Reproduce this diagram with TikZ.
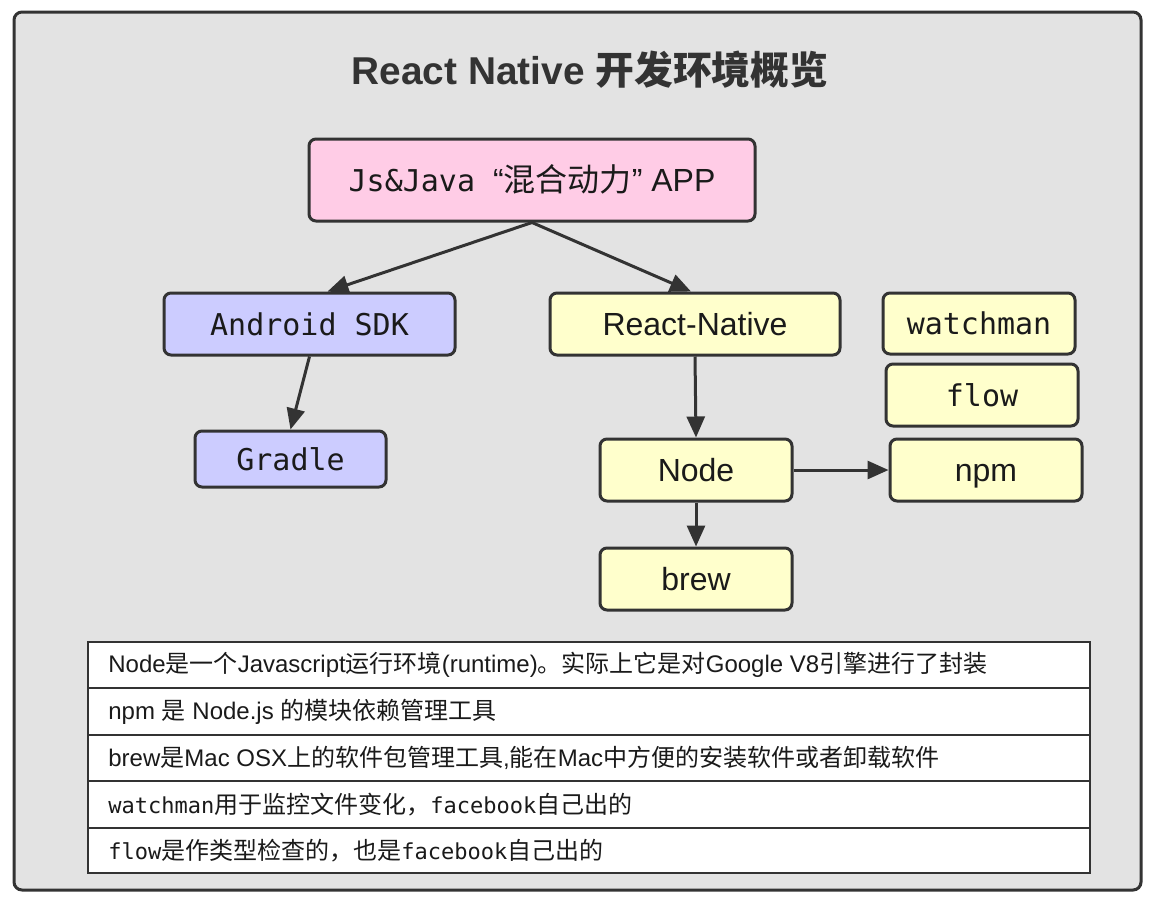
\documentclass[tikz,border=0pt]{standalone}
\usepackage{fontspec}
\setmainfont{Liberation Sans}
\setmonofont{DejaVu Sans Mono}
\newfontfamily\cjk{Noto Sans CJK SC}
\newcommand\zh[1]{{\cjk #1}}
\usetikzlibrary{arrows.meta}
\definecolor{framebg}{HTML}{E3E3E3}
\definecolor{edge}{HTML}{333333}
\definecolor{pinkfill}{HTML}{FFCCE6}
\definecolor{lavfill}{HTML}{CCCCFF}
\definecolor{yelfill}{HTML}{FFFFCC}
\definecolor{txt}{HTML}{1A1A1A}
\tikzset{
  box/.style={draw=edge, line width=1.5pt, rounded corners=3.5pt, inner sep=0pt, text=txt},
  pinkbox/.style={box, fill=pinkfill},
  lavbox/.style={box, fill=lavfill},
  yelbox/.style={box, fill=yelfill},
  sztxt/.style={font=\fontsize{16}{18}\selectfont, text height=11.5pt, text depth=0pt},
  monotxt/.style={font=\ttfamily\fontsize{15}{18}\selectfont, text height=11pt, text depth=0pt},
  conn/.style={draw=edge, line width=1.5pt, -{Triangle[length=10.5pt,width=9pt]}},
  row/.style={draw=edge, line width=1.2pt, fill=white},
  rowtxt/.style={anchor=west, inner sep=0pt, text=txt, font=\fontsize{12}{14}\selectfont},
}
\begin{document}
\begin{tikzpicture}[x=0.5pt,y=-0.5pt]
\useasboundingbox (0,0) rectangle (1154,900);
\fill[white] (0,0) rectangle (1154,900);
\draw[draw=edge, fill=framebg, line width=1.5pt, rounded corners=4pt] (14,12) rectangle (1141,890);

\node[text=edge, font=\bfseries\fontsize{19.4}{22}\selectfont] (title) at (590,70) {React Native \zh{开发环境概览}};

\node[pinkbox, minimum width=223pt, minimum height=41pt, sztxt] (app) at (532,180)
  {{\ttfamily\fontsize{15}{18}\selectfont Js\&Java }“\zh{混合动力}” APP};
\node[lavbox, minimum width=145.5pt, minimum height=31pt, monotxt] (asdk) at (309.5,324) {Android SDK};
\node[lavbox, minimum width=95.5pt, minimum height=28pt, monotxt] (gradle) at (290.5,459) {Gradle};
\node[yelbox, minimum width=145pt, minimum height=31pt, sztxt] (rn) at (695,324) {React-Native};
\node[yelbox, minimum width=96pt, minimum height=30.5pt, monotxt] (watchman) at (979,323.5) {watchman};
\node[yelbox, minimum width=96pt, minimum height=31pt, monotxt] (flow) at (982,395) {flow};
\node[yelbox, minimum width=96pt, minimum height=31pt, sztxt] (npm) at (986,470) {npm};
\node[yelbox, minimum width=96pt, minimum height=31pt, sztxt] (nodejs) at (696,470) {Node};
\node[yelbox, minimum width=96pt, minimum height=31pt, sztxt] (brew) at (696,579) {brew};

\draw[conn] (app.south) -- ([xshift=9pt]asdk.north);
\draw[conn] (app.south) -- ([xshift=-2pt]rn.north);
\draw[conn] (asdk.south) -- (gradle.north);
\draw[conn] (rn.south) -- (nodejs.north);
\draw[conn] (nodejs.east) -- (npm.west);
\draw[conn] (nodejs.south) -- (brew.north);

\draw[row] (88,642) rectangle (1090,688);
\draw[row] (88,688) rectangle (1090,735);
\draw[row] (88,735) rectangle (1090,781);
\draw[row] (88,781) rectangle (1090,828);
\draw[row] (88,828) rectangle (1090,873);
\node[rowtxt] (t1) at (108,665) {Node\zh{是一个}Javascript\zh{运行环境}(runtime)\zh{。实际上它是对}Google V8\zh{引擎进行了封装}};
\node[rowtxt] (t2) at (108,711.5) {npm \zh{是} Node.js \zh{的模块依赖管理工具}};
\node[rowtxt] (t3) at (108,758) {brew\zh{是}Mac OSX\zh{上的软件包管理工具},\zh{能在}Mac\zh{中方便的安装软件或者卸载软件}};
\node[rowtxt] (t4) at (108,804.5) {{\ttfamily\fontsize{11}{14}\selectfont watchman}\zh{用于监控文件变化，}{\ttfamily\fontsize{11}{14}\selectfont facebook}\zh{自己出的}};
\node[rowtxt] (t5) at (108,850.5) {{\ttfamily\fontsize{11}{14}\selectfont flow}\zh{是作类型检查的，也是}{\ttfamily\fontsize{11}{14}\selectfont facebook}\zh{自己出的}};
\end{tikzpicture}
\end{document}
